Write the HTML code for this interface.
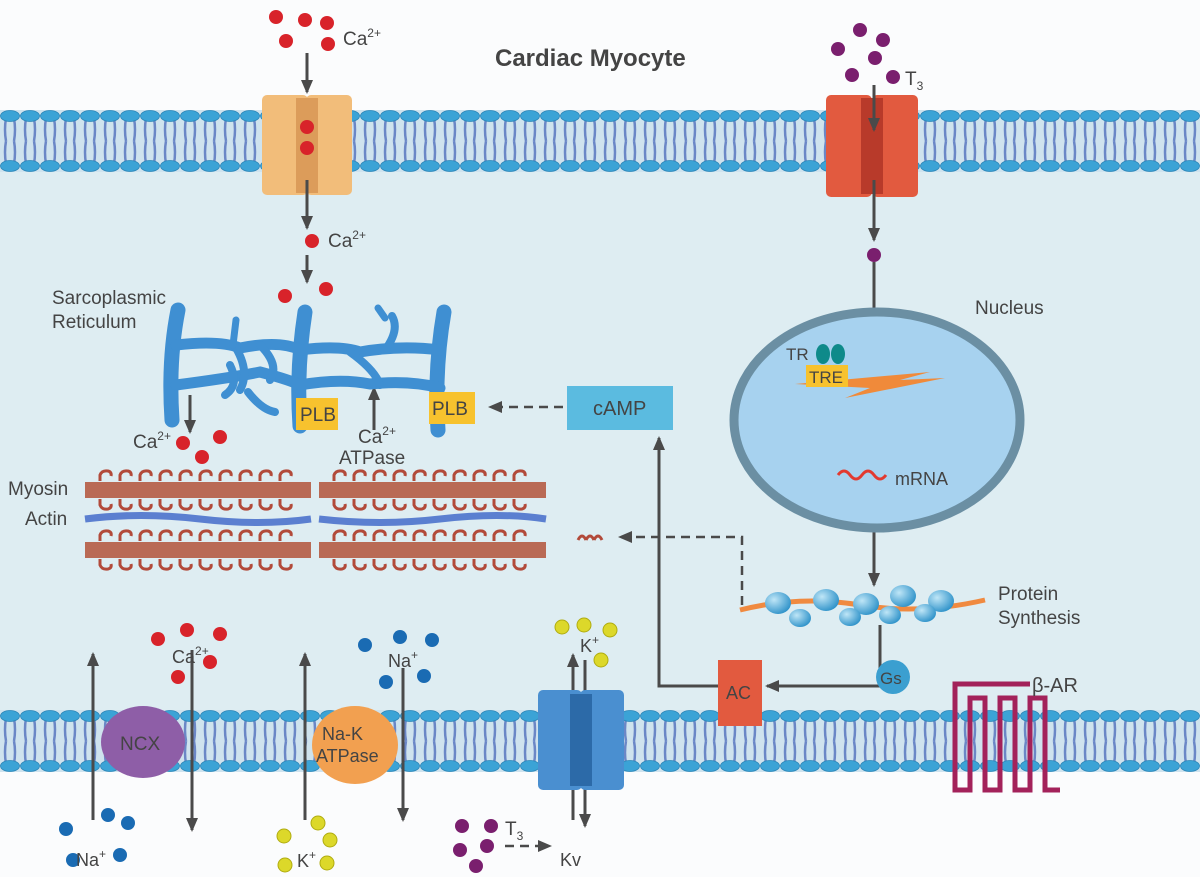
<!DOCTYPE html>
<html><head><meta charset="utf-8">
<style>
html,body{margin:0;padding:0;background:#fff}
svg{display:block}
text{font-family:"Liberation Sans",sans-serif;fill:#444}
</style></head><body>
<svg id="s" width="1200" height="877" viewBox="0 0 1200 877" xmlns="http://www.w3.org/2000/svg">
<defs>
<pattern id="mem1" x="0" y="110" width="20" height="62" patternUnits="userSpaceOnUse">
<rect width="20" height="62" fill="#cfe3ee"/>
<path d="M6 8 Q4 20 6 31 M14 8 Q16 20 14 31 M6 31 Q4 42 6 54 M14 31 Q16 42 14 54" stroke="#6b87c6" stroke-width="2.5" fill="none"/>
<ellipse cx="10" cy="6" rx="9.5" ry="5.5" fill="#3ba3d6" stroke="#2a86b8" stroke-width="0.8"/>
<ellipse cx="10" cy="56" rx="9.5" ry="5.5" fill="#3ba3d6" stroke="#2a86b8" stroke-width="0.8"/>
</pattern>
<pattern id="mem2" x="0" y="710" width="20" height="62" patternUnits="userSpaceOnUse">
<rect width="20" height="62" fill="#cfe3ee"/>
<path d="M6 8 Q4 20 6 31 M14 8 Q16 20 14 31 M6 31 Q4 42 6 54 M14 31 Q16 42 14 54" stroke="#6b87c6" stroke-width="2.5" fill="none"/>
<ellipse cx="10" cy="6" rx="9.5" ry="5.5" fill="#3ba3d6" stroke="#2a86b8" stroke-width="0.8"/>
<ellipse cx="10" cy="56" rx="9.5" ry="5.5" fill="#3ba3d6" stroke="#2a86b8" stroke-width="0.8"/>
</pattern>
<marker id="ah2" markerWidth="14" markerHeight="14" refX="12" refY="7" orient="auto" markerUnits="userSpaceOnUse" viewBox="0 0 14 14"><path d="M0 1 L14 7 L0 13z" fill="#4a4a4a"/></marker>
<radialGradient id="sph" cx="0.35" cy="0.35" r="0.7"><stop offset="0" stop-color="#bfe6f7"/><stop offset="1" stop-color="#2e92c9"/></radialGradient>
</defs>
<rect width="1200" height="877" fill="#fbfcfd"/>
<rect x="0" y="170" width="1200" height="545" fill="#deedf2"/>
<rect x="0" y="110" width="1200" height="62" fill="url(#mem1)"/>
<rect x="0" y="710" width="1200" height="62" fill="url(#mem2)"/>

<text x="495" y="66" font-size="24" fill="#555" font-weight="bold">Cardiac Myocyte</text>

<rect x="262" y="95" width="46" height="100" rx="5" fill="#f2bd7a"/>
<rect x="306" y="95" width="46" height="100" rx="5" fill="#f2bd7a"/>
<rect x="296" y="98" width="22" height="95" fill="#dc9c5a"/>
<rect x="826" y="95" width="46" height="102" rx="5" fill="#e25a3f"/>
<rect x="872" y="95" width="46" height="102" rx="5" fill="#e25a3f"/>
<rect x="861" y="98" width="22" height="96" fill="#b83a2a"/>

<g fill="#d8232a">
<circle cx="276" cy="17" r="7"/><circle cx="305" cy="20" r="7"/><circle cx="327" cy="23" r="7"/><circle cx="286" cy="41" r="7"/><circle cx="328" cy="44" r="7"/>
<circle cx="307" cy="127" r="7"/><circle cx="307" cy="148" r="7"/>
<circle cx="312" cy="241" r="7"/>
<circle cx="285" cy="296" r="7"/><circle cx="326" cy="289" r="7"/>
<circle cx="183" cy="443" r="7"/><circle cx="220" cy="437" r="7"/><circle cx="202" cy="457" r="7"/>
<circle cx="158" cy="639" r="7"/><circle cx="187" cy="630" r="7"/><circle cx="220" cy="634" r="7"/><circle cx="178" cy="677" r="7"/><circle cx="210" cy="662" r="7"/>
</g>
<text x="343" y="45" font-size="19">Ca<tspan font-size="12" dy="-8">2+</tspan></text>
<text x="328" y="247" font-size="19">Ca<tspan font-size="12" dy="-8">2+</tspan></text>
<g stroke="#4a4a4a" stroke-width="3" fill="none">
<line x1="307" y1="53" x2="307" y2="92" marker-end="url(#ah2)"/>
<line x1="307" y1="180" x2="307" y2="228" marker-end="url(#ah2)"/>
<line x1="307" y1="255" x2="307" y2="282" marker-end="url(#ah2)"/>
<line x1="874" y1="85" x2="874" y2="130" marker-end="url(#ah2)"/>
<line x1="874" y1="180" x2="874" y2="240" marker-end="url(#ah2)"/>
<line x1="874" y1="262" x2="874" y2="325" marker-end="url(#ah2)"/>
<line x1="874" y1="402" x2="874" y2="460" marker-end="url(#ah2)"/>
<line x1="874" y1="496" x2="874" y2="585" marker-end="url(#ah2)"/>
<line x1="190" y1="395" x2="190" y2="432" marker-end="url(#ah2)"/>
<line x1="374" y1="430" x2="374" y2="388" marker-end="url(#ah2)"/>
<polyline points="880,625 880,686 767,686" marker-end="url(#ah2)"/>
<polyline points="718,686 659,686 659,438" marker-end="url(#ah2)"/>
<line x1="93" y1="820" x2="93" y2="654" marker-end="url(#ah2)"/>
<line x1="192" y1="650" x2="192" y2="830" marker-end="url(#ah2)"/>
<line x1="305" y1="820" x2="305" y2="654" marker-end="url(#ah2)"/>
<line x1="403" y1="668" x2="403" y2="820" marker-end="url(#ah2)"/>
<line x1="573" y1="820" x2="573" y2="655" marker-end="url(#ah2)"/>
<line x1="585" y1="660" x2="585" y2="826" marker-end="url(#ah2)"/>
</g>
<g stroke="#4a4a4a" stroke-width="2.5" fill="none" stroke-dasharray="9,6">
<line x1="563" y1="407" x2="490" y2="407" marker-end="url(#ah2)"/>
<polyline points="742,605 742,537 620,537" marker-end="url(#ah2)"/>
<line x1="505" y1="846" x2="550" y2="846" marker-end="url(#ah2)"/>
</g>

<g fill="#7a1f6e">
<circle cx="838" cy="49" r="7"/><circle cx="860" cy="30" r="7"/><circle cx="875" cy="58" r="7"/><circle cx="883" cy="40" r="7"/><circle cx="852" cy="75" r="7"/><circle cx="893" cy="77" r="7"/>
<circle cx="874" cy="255" r="7"/><circle cx="876" cy="343" r="7"/><circle cx="846" cy="342" r="7"/>
<circle cx="462" cy="826" r="7"/><circle cx="491" cy="826" r="7"/><circle cx="460" cy="850" r="7"/><circle cx="487" cy="846" r="7"/><circle cx="476" cy="866" r="7"/>
</g>
<text x="905" y="85" font-size="19">T<tspan font-size="12" dy="5">3</tspan></text>
<text x="505" y="835" font-size="19">T<tspan font-size="12" dy="5">3</tspan></text>

<g stroke="#3f8fd2" stroke-linecap="round" fill="none">
<path d="M178 310 Q168 360 172 420" stroke-width="15"/>
<path d="M305 312 Q296 370 300 426" stroke-width="15"/>
<path d="M444 312 Q434 370 438 430" stroke-width="15"/>
<path d="M176 345 Q220 340 240 348 Q280 340 300 350 Q340 345 360 352 Q400 345 440 350" stroke-width="11"/>
<path d="M176 385 Q230 378 260 372 Q290 380 300 385 Q340 378 370 384 Q410 380 440 388" stroke-width="11"/>
<path d="M236 348 Q250 372 240 390 M260 345 Q280 365 270 380 M248 392 Q262 410 275 412 M350 352 Q375 370 380 385 M385 350 Q400 330 392 316 M230 365 Q240 385 225 395" stroke-width="8"/>
<path d="M233 345 L236 320 M385 318 L378 308" stroke-width="7"/>
</g>
<rect x="296" y="398" width="42" height="32" fill="#f7c22e"/>
<text x="300" y="421" font-size="19" fill="#333">PLB</text>
<rect x="429" y="392" width="46" height="32" fill="#f7c22e"/>
<text x="432" y="415" font-size="19" fill="#333">PLB</text>
<text x="52" y="304" font-size="19">Sarcoplasmic</text>
<text x="52" y="328" font-size="19">Reticulum</text>
<text x="133" y="448" font-size="19">Ca<tspan font-size="12" dy="-8">2+</tspan></text>
<text x="358" y="443" font-size="19">Ca<tspan font-size="12" dy="-8">2+</tspan></text>
<text x="339" y="464" font-size="19">ATPase</text>

<rect x="567" y="386" width="106" height="44" fill="#5bbbe0"/>
<text x="593" y="415" font-size="20" fill="#333">cAMP</text>

<g id="myo"></g>
<text x="8" y="495" font-size="19">Myosin</text>
<text x="25" y="525" font-size="19">Actin</text>

<ellipse cx="877" cy="420" rx="143" ry="108" fill="#a7d2ef" stroke="#6b8fa3" stroke-width="9"/>
<text x="975" y="314" font-size="19">Nucleus</text>
<ellipse cx="823" cy="354" rx="7" ry="10" fill="#0e8a8a"/><ellipse cx="838" cy="354" rx="7" ry="10" fill="#0e8a8a"/>
<text x="786" y="360" font-size="17" fill="#333">TR</text>
<path d="M795 384 L930 372 L900 380 L945 378 L845 398 L870 388 L795 384z" fill="#f08a3a"/>
<rect x="806" y="365" width="42" height="22" fill="#f7c22e"/>
<text x="809" y="383" font-size="17" fill="#333">TRE</text>
<path d="M838 475 q6 -8 12 0 t12 0 t12 0 t12 0" stroke="#e23a30" stroke-width="3" fill="none"/>
<text x="895" y="485" font-size="18" fill="#333">mRNA</text>

<path d="M740 610 Q800 595 860 605 Q920 615 985 600" stroke="#f08a40" stroke-width="5" fill="none"/>
<g fill="url(#sph)">
<ellipse cx="778" cy="603" rx="13" ry="11"/><ellipse cx="826" cy="600" rx="13" ry="11"/><ellipse cx="866" cy="604" rx="13" ry="11"/><ellipse cx="903" cy="596" rx="13" ry="11"/><ellipse cx="941" cy="601" rx="13" ry="11"/>
<ellipse cx="800" cy="618" rx="11" ry="9"/><ellipse cx="850" cy="617" rx="11" ry="9"/><ellipse cx="890" cy="615" rx="11" ry="9"/><ellipse cx="925" cy="613" rx="11" ry="9"/>
</g>
<text x="998" y="600" font-size="19">Protein</text>
<text x="998" y="624" font-size="19">Synthesis</text>
<path d="M578 540 q4 -8 8 0 M586 540 q4 -8 8 0 M594 540 q4 -8 8 0" stroke="#b24a3a" stroke-width="3" fill="none"/>

<circle cx="893" cy="677" r="17" fill="#3b9fd0"/>
<text x="880" y="684" font-size="17" fill="#222">Gs</text>
<rect x="718" y="660" width="44" height="66" fill="#e25a3f"/>
<text x="726" y="699" font-size="18" fill="#333">AC</text>

<path d="M1030 684 L955 684 L955 790 L970 790 L970 698 L985 698 L985 790 L1000 790 L1000 698 L1015 698 L1015 790 L1030 790 L1030 698 L1045 698 L1045 790 L1060 790" stroke="#a3225a" stroke-width="5" fill="none"/>
<text x="1032" y="692" font-size="20" fill="#444">β-AR</text>

<ellipse cx="143" cy="742" rx="42" ry="36" fill="#8e5ea7"/>
<text x="120" y="750" font-size="19" fill="#222">NCX</text>
<ellipse cx="355" cy="745" rx="43" ry="39" fill="#f2a050"/>
<text x="322" y="740" font-size="18" fill="#222">Na-K</text>
<text x="316" y="762" font-size="18" fill="#222">ATPase</text>
<text x="172" y="663" font-size="18">Ca<tspan font-size="12" dy="-8">2+</tspan></text>

<rect x="538" y="690" width="44" height="100" rx="5" fill="#4a8fd0"/>
<rect x="580" y="690" width="44" height="100" rx="5" fill="#4a8fd0"/>
<rect x="570" y="694" width="22" height="92" fill="#2c6aa8"/>
<text x="560" y="866" font-size="18">Kv</text>

<g fill="#1a6bb3">
<circle cx="365" cy="645" r="7"/><circle cx="400" cy="637" r="7"/><circle cx="432" cy="640" r="7"/><circle cx="386" cy="682" r="7"/><circle cx="424" cy="676" r="7"/>
<circle cx="66" cy="829" r="7"/><circle cx="108" cy="815" r="7"/><circle cx="128" cy="823" r="7"/><circle cx="120" cy="855" r="7"/><circle cx="73" cy="860" r="7"/>
</g>
<text x="388" y="667" font-size="18">Na<tspan font-size="12" dy="-8">+</tspan></text>
<text x="76" y="866" font-size="18">Na<tspan font-size="12" dy="-8">+</tspan></text>
<g fill="#dcd82a" stroke="#b0ac10" stroke-width="1">
<circle cx="562" cy="627" r="7"/><circle cx="584" cy="625" r="7"/><circle cx="610" cy="630" r="7"/><circle cx="601" cy="660" r="7"/>
<circle cx="284" cy="836" r="7"/><circle cx="318" cy="823" r="7"/><circle cx="330" cy="840" r="7"/><circle cx="285" cy="865" r="7"/><circle cx="327" cy="863" r="7"/>
</g>
<text x="580" y="652" font-size="18">K<tspan font-size="12" dy="-8">+</tspan></text>
<text x="297" y="867" font-size="18">K<tspan font-size="12" dy="-8">+</tspan></text>
</svg>
<script>
(function(){
var g=document.getElementById('myo'),h='';
function row(x0,x1,y){
h+='<rect x="'+x0+'" y="'+(y-8)+'" width="'+(x1-x0)+'" height="16" fill="#b96a55"/>';
for(var x=x0+15;x<x1-15;x+=20){
h+='<path d="M'+x+' '+(y-9)+' l0 -6 q2 -5 8 -4 q4 1 3 5" stroke="#b24a3a" stroke-width="3" fill="none"/>';
h+='<path d="M'+x+' '+(y+9)+' l0 6 q2 5 8 4 q4 -1 3 -5" stroke="#b24a3a" stroke-width="3" fill="none"/>';
}}
row(85,311,490);row(319,546,490);row(85,311,550);row(319,546,550);
h+='<path d="M85 519 Q140 512 200 519 T311 519 M319 519 Q380 526 440 519 T546 519" stroke="#5b7fd0" stroke-width="7" fill="none"/>';
g.innerHTML=h;
})();
</script>
</body></html>
